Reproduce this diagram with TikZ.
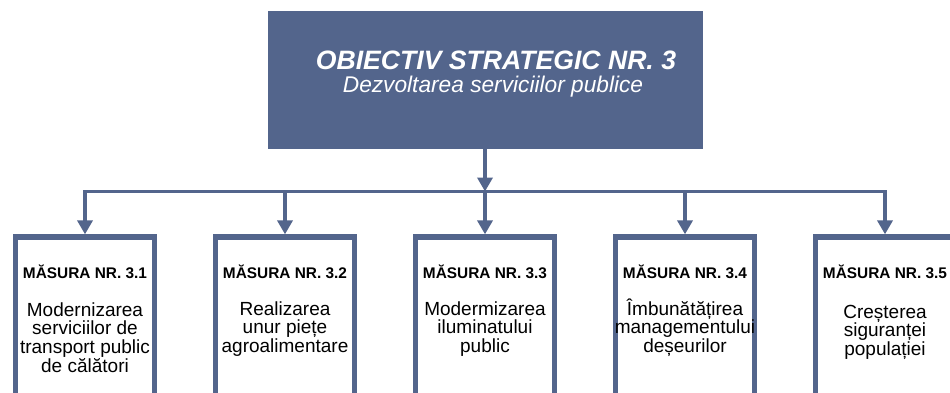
\documentclass[tikz,border=0pt]{standalone}
\usepackage{fontspec}
\setmainfont{Liberation Sans}
\usetikzlibrary{arrows.meta}
\definecolor{slate}{RGB}{83,101,140}
\begin{document}
\begin{tikzpicture}[x=1pt,y=-1pt,
  topbox/.style={rectangle, fill=slate, draw=none, minimum width=435pt, minimum height=138pt, inner sep=0pt},
  mbox/.style={rectangle, draw=slate, fill=white, line width=5.3pt, minimum width=139.5pt, minimum height=200pt, inner sep=0pt},
  conn/.style={draw=slate, line width=3.5pt, -{Triangle[length=14pt,width=15pt]}},
  hdr/.style={anchor=base, inner sep=0pt, font=\fontsize{15.4}{17}\selectfont\bfseries},
  body/.style={anchor=base, inner sep=0pt, align=center, font=\fontsize{19}{18.7}\selectfont},
]
\useasboundingbox (0,0) rectangle (950,393);
\clip (0,0) rectangle (950,393);
\fill[white] (0,0) rectangle (950,393);
\node[topbox] (obj) at (485,80) {};
\node[anchor=base, inner sep=0pt, text=white, font=\fontsize{26.6}{28}\selectfont\bfseries\itshape] (objt) at (496,70) {OBIECTIV STRATEGIC NR. 3};
\node[anchor=base, inner sep=0pt, text=white, font=\fontsize{22.7}{26}\selectfont\itshape] (objs) at (493,93) {Dezvoltarea serviciilor publice};
\coordinate (hub) at (485,191.5);
\foreach \i/\x in {1/85,2/285,3/485,4/685,5/885}{
  \node[mbox] (m\i) at (\x,337) {};
}
\draw[conn] (obj.south) -- (hub);
\draw[conn] (hub) -| (m1.north);
\draw[conn] (hub) -| (m2.north);
\draw[conn] (hub) -- (m3.north);
\draw[conn] (hub) -| (m4.north);
\draw[conn] (hub) -| (m5.north);
\node[hdr] (h1) at (85,278) {MĂSURA NR. 3.1};
\node[hdr] (h2) at (285,278) {MĂSURA NR. 3.2};
\node[hdr] (h3) at (485,278) {MĂSURA NR. 3.3};
\node[hdr] (h4) at (685,278) {MĂSURA NR. 3.4};
\node[hdr] (h5) at (885,278) {MĂSURA NR. 3.5};
\node[body] (b1) at (85,372.2) {Modernizarea\\serviciilor de\\transport public\\de călători};
\node[body] (b2) at (285,352.4) {Realizarea\\unur piețe\\agroalimentare};
\node[body] (b3) at (485,352.4) {Modermizarea\\iluminatului\\public};
\node[body] (b4) at (685,352.4) {Îmbunătățirea\\managementului\\deșeurilor};
\node[body] (b5) at (885,355.4) {Creșterea\\siguranței\\populației};
\end{tikzpicture}
\end{document}
